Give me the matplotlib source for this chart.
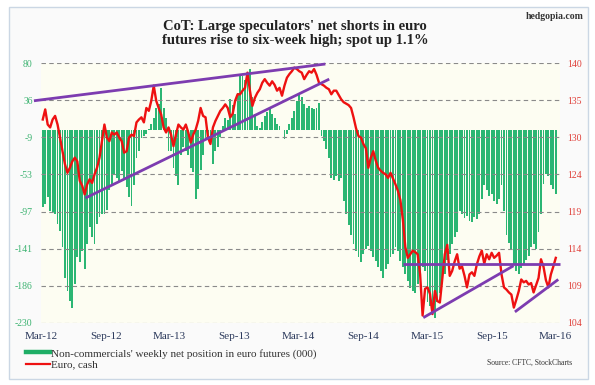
import numpy as np
import pandas as pd
import matplotlib
matplotlib.use('Agg')
import matplotlib.pyplot as plt
from matplotlib.lines import Line2D
from matplotlib.patches import Rectangle

plt.rcParams['font.family'] = ['Liberation Serif', 'DejaVu Serif']
plt.rcParams['hatch.color'] = '#ebeab0'
plt.rcParams['hatch.linewidth'] = 0.6

# weekly net position of non-commercials in euro futures (000 contracts)
net_position = [
    -92, -88, -80, -96, -98, -100, -112, -120, -140, -176,
    -192, -204, -212, -184, -152, -158, -144, -166, -136, -116,
    -128, -136, -112, -104, -100, -100, -95, -72, -64, -53,
    -57, -61, -49, -57, -68, -80, -90, -65, -33, -25,
    -9, -7, -5, 2, 7, 15, 27, 31, 51, 27,
    15, -25, -25, -45, -55, -65, -30, -20, -25, -30,
    -45, -50, -82, -70, -48, -30, -12, -10, -18, -40,
    -25, -20, -8, 5, 15, 12, 37, 30, 20, 45,
    67, 65, 60, 70, 73, 40, 20, 5, 3, 10,
    17, 22, 27, 20, 15, 8, 5, 0, -11, -5,
    7, 15, 23, 35, 45, 40, 31, 27, 29, 27,
    25, 27, 33, -7, -13, -23, -33, -57, -59, -55,
    -61, -57, -85, -100, -113, -125, -136, -144, -152, -158,
    -148, -142, -138, -144, -152, -156, -164, -168, -176, -166,
    -160, -152, -148, -140, -144, -156, -164, -172, -180, -188,
    -192, -194, -184, -172, -164, -168, -205, -210, -218, -224,
    -205, -195, -180, -172, -155, -148, -136, -128, -122, -97,
    -100, -105, -103, -108, -110, -104, -106, -100, -82, -66,
    -72, -78, -76, -85, -88, -82, -66, -97, -125, -135,
    -142, -160, -168, -172, -165, -160, -155, -150, -140, -136,
    -142, -122, -100, -64, -52, -55, -66, -70, -76,
]

# euro, cash (US cents)
euro = [
    132.2, 133.6, 131.5, 131.1, 132.2, 132.7, 131.5, 129.7, 127.8, 126.0,
    124.8, 125.5, 126.4, 126.9, 126.4, 123.7, 123.0, 121.8, 123.2, 123.9,
    123.4, 124.6, 125.5, 126.9, 129.2, 131.5, 129.7, 129.2, 130.4, 130.1,
    130.4, 129.7, 129.2, 127.6, 127.8, 129.7, 130.1, 129.9, 131.8, 132.2,
    132.5, 131.8, 133.8, 133.4, 134.8, 136.9, 134.8, 133.8, 132.9, 131.1,
    130.4, 131.1, 130.1, 128.5, 130.1, 131.5, 131.1, 130.8, 131.5, 130.4,
    129.0, 130.1, 130.8, 132.0, 133.8, 132.7, 132.5, 129.7, 128.8, 131.1,
    132.0, 132.7, 133.4, 133.8, 134.3, 133.8, 132.5, 133.0, 134.8, 135.7,
    135.7, 136.2, 136.6, 138.7, 136.2, 134.1, 135.2, 135.9, 136.4, 137.3,
    137.8, 137.3, 136.9, 137.5, 137.0, 136.2, 136.6, 135.5, 136.9, 138.0,
    138.5, 138.9, 139.4, 139.2, 138.9, 138.7, 137.8, 138.4, 138.9, 138.7,
    139.2, 138.4, 137.3, 137.1, 136.9, 136.6, 136.4, 135.7, 136.2, 136.2,
    135.6, 135.0, 134.6, 134.4, 134.2, 133.8, 132.5, 131.0, 129.9, 129.7,
    128.8, 128.2, 125.5, 126.9, 127.8, 126.5, 125.5, 125.1, 124.8, 124.6,
    124.1, 124.8, 124.0, 123.2, 122.3, 121.0, 118.3, 114.5, 113.0, 113.5,
    114.0, 113.8, 113.5, 110.7, 105.0, 108.7, 108.9, 108.0, 105.2, 108.4,
    107.0, 106.8, 110.2, 113.5, 114.8, 110.5, 111.2, 112.5, 113.5, 111.5,
    111.8, 110.5, 108.9, 110.7, 111.0, 110.5, 112.1, 113.2, 114.0, 112.2,
    113.5, 112.8, 113.7, 113.0, 113.3, 113.7, 110.7, 108.9, 108.6, 108.2,
    107.9, 106.1, 107.2, 108.4, 110.0, 109.6, 109.8, 109.3, 109.5, 108.2,
    109.2, 110.2, 112.8, 111.8, 109.9, 108.9, 110.7, 111.8, 113.0,
]

weeks = pd.date_range('2012-03-06', periods=len(net_position), freq='7D')

# trend lines drawn on the euro (start date, start value, end date, end value)
trend_lines = [
    ('2012-02-10', 134.8, '2014-05-17', 139.9),
    ('2012-07-05', 121.3, '2014-05-28', 137.8),
    ('2014-12-23', 112.2, '2016-03-12', 112.2),
    ('2015-02-19', 104.7, '2015-11-02', 111.9),
    ('2015-11-06', 105.5, '2016-03-08', 110.0),
]

left_labels = ['-230', '-186', '-141', '-97', '-53', '-9', '36', '80']
right_labels = ['104', '109', '114', '119', '124', '130', '135', '140']
month_ticks = pd.date_range('2012-03-01', '2016-03-01', freq='6MS')

fig = plt.figure(figsize=(5.95, 3.85), dpi=100)
fig.patch.set_facecolor('white')
fig.add_artist(Rectangle((0.0151, 0.0156), 0.973, 0.966, transform=fig.transFigure,
                         facecolor='#fafafa', edgecolor='#cbd7e4', lw=1.0, zorder=-5))

ax = fig.add_axes([0.0689, 0.1618, 0.8723, 0.6738])
ax.set_facecolor('#fdfdf2')
ax.patch.set_hatch('..')
ax.bar(weeks, net_position, width=5.2, color='#2bb673', edgecolor='none', zorder=1)
ax.set_ylim(-230, 80)
ax.set_yticks(np.linspace(-230, 80, 8))
ax.set_yticklabels(left_labels)
ax.set_xlim(pd.Timestamp('2012-03-03'), pd.Timestamp('2016-03-13'))
ax.set_xticks(month_ticks)
ax.set_xticklabels([d.strftime('%b-%y') for d in month_ticks])
ax.grid(axis='y', color='#8a8a8a', linestyle=(0, (4, 3)), linewidth=0.8, zorder=2)
ax.set_axisbelow(False)
ax.tick_params(axis='y', length=0, pad=6, labelsize=7, labelcolor='#3cb371')
ax.tick_params(axis='x', length=0, pad=7, labelsize=8, labelcolor='#2c3a5c')
for s in ax.spines.values():
    s.set_visible(False)

ax2 = ax.twinx()
ax2.plot(weeks, euro, color='#ee1111', lw=1.7, zorder=3)
for d0, v0, d1, v1 in trend_lines:
    ax2.plot([pd.Timestamp(d0), pd.Timestamp(d1)], [v0, v1], color='#7d3cb0',
             lw=2.0, solid_capstyle='butt', clip_on=False, zorder=4)
ax2.set_ylim(104, 140)
ax2.set_yticks(np.linspace(104, 140, 8))
ax2.set_yticklabels(right_labels)
ax2.tick_params(axis='y', length=0, pad=5, labelsize=7, labelcolor='#e0403a')
for s in ax2.spines.values():
    s.set_visible(False)

fig.text(0.496, 0.912, "CoT: Large speculators' net shorts in euro\nfutures rise to six-week high; spot up 1.1%",
         ha='center', va='center', fontsize=10.5, fontweight='bold', color='#222222',
         linespacing=1.1)
fig.text(0.98, 0.956, 'hedgopia.com', ha='right', va='center', fontsize=7,
         fontweight='bold', color='#333333')
fig.text(0.961, 0.057, 'Source: CFTC, StockCharts', ha='right', va='center',
         fontsize=5.5, color='#333333')

handles = [Line2D([], [], color='#1fae66', lw=3.2),
           Line2D([], [], color='#ee1111', lw=1.6)]
fig.legend(handles, ["Non-commercials' weekly net position in euro futures (000)", 'Euro, cash'],
           loc='lower left', bbox_to_anchor=(0.03, 0.02), frameon=False,
           fontsize=8, handlelength=2.2, handletextpad=0.1, labelspacing=0.1,
           borderpad=0.2, labelcolor='#333333')

fig.savefig('out.png', dpi=100, facecolor=fig.get_facecolor())
